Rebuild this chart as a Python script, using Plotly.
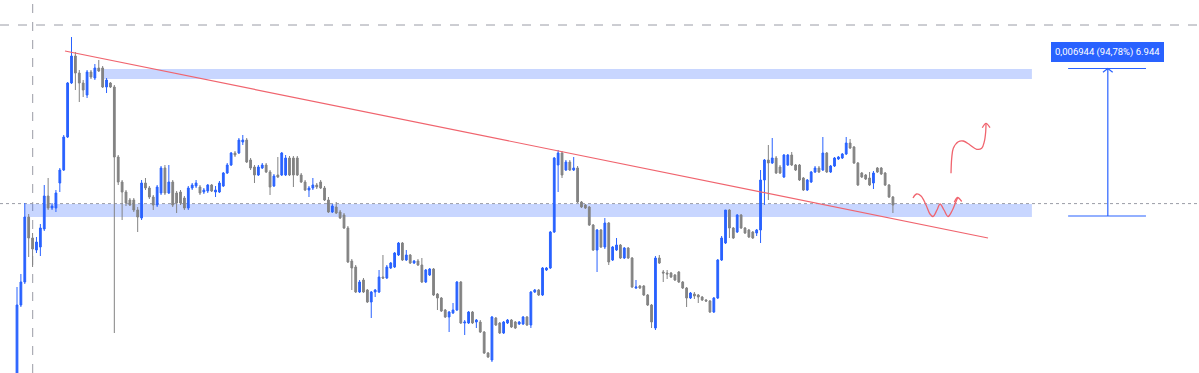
import numpy as np
import plotly.graph_objects as go

# Prices are stored in units of 0.00001
UNIT = 1e-5

open_ = [125,475,590,915,810,750,765,855,1020,960,
960,1085,1150,1315,1585,1720,1635,1585,1525,1640,
1610,1660,1660,1565,1585,1565,1215,1090,1040,1000,
1000,950,910,1085,1060,1015,975,1035,1160,1035,
1090,1035,1040,1010,960,1060,1070,1065,1040,1045,
1075,1040,1040,1070,1135,1175,1235,1235,1290,1300,
1200,1165,1125,1160,1175,1140,1070,1125,1125,1125,
1210,1210,1210,1125,1090,1050,1060,1075,1090,1060,
1000,940,965,940,925,860,695,665,540,600,
550,490,540,540,615,610,660,665,725,785,
700,725,685,695,675,590,625,655,530,510,
450,415,435,450,590,385,385,440,390,390,
340,235,200,410,385,335,385,400,390,380,
380,415,375,540,550,525,650,660,840,1175,
1235,1150,1190,1150,1160,990,975,965,875,750,
850,765,885,700,750,775,710,760,710,560,
570,570,525,475,360,710,640,635,635,625,
640,590,560,510,530,525,515,500,495,440,
510,700,785,950,860,840,925,860,850,840,
835,850,1100,1200,1185,1210,1165,1115,1175,1225,
1175,1175,1110,1050,1090,1140,1160,1150,1235,1140,
1170,1205,1210,1230,1285,1265,1185,1135,1125,1110,
1085,1160,1160,1135,1075,1015]

high = [565,630,985,930,835,815,880,1075,1110,985,
1050,1160,1325,1590,1815,1740,1650,1600,1650,1650,
1680,1700,1670,1610,1590,1575,1225,1100,1050,1010,
1010,965,1100,1110,1070,1025,1075,1170,1175,1175,
1100,1045,1050,1020,1070,1085,1100,1075,1060,1080,
1080,1070,1095,1140,1185,1240,1245,1310,1325,1310,
1210,1175,1175,1185,1185,1150,1130,1215,1240,1225,
1220,1220,1220,1135,1100,1070,1110,1085,1100,1070,
1015,980,990,950,935,870,705,675,600,610,
555,545,555,650,725,675,690,740,790,790,
750,730,700,705,710,655,660,660,535,515,
455,445,485,595,595,400,445,445,405,400,
345,240,420,415,390,395,405,405,395,395,
420,420,545,555,555,665,665,845,1215,1250,
1245,1200,1200,1215,1170,995,980,970,880,855,
855,910,890,770,810,780,765,765,715,600,
575,575,530,480,720,725,650,650,640,630,
645,595,565,540,540,530,520,505,500,515,
705,820,950,955,865,930,930,865,855,845,
855,1150,1205,1275,1310,1220,1175,1230,1230,1240,
1180,1180,1115,1105,1145,1170,1170,1315,1240,1175,
1215,1220,1235,1315,1305,1270,1190,1140,1130,1140,
1145,1165,1165,1140,1080,1020]

low = [100,465,580,715,665,735,720,845,950,950,
940,1040,1145,1310,1580,1550,1490,1515,1510,1605,
1600,1640,1560,1535,1560,335,1075,900,970,970,
940,840,900,1050,1005,950,965,1025,1025,1030,
965,935,975,950,950,1050,1060,1025,1030,1035,
1040,1015,1035,1065,1130,1170,1215,1230,1275,1185,
1150,1085,1120,1155,1135,1025,1065,1110,1120,1120,
1120,1065,1120,1085,1045,1015,1050,1055,1055,995,
935,935,930,905,855,685,550,535,535,535,
485,410,515,535,605,605,655,660,720,695,
695,680,680,670,585,585,620,520,450,440,
410,340,430,445,380,325,380,380,360,335,
230,210,190,370,330,330,380,360,355,375,
375,370,360,535,520,520,645,655,835,1040,
1110,1145,1145,1145,985,960,955,870,745,640,
760,755,675,695,745,705,705,705,560,555,
555,520,470,360,350,680,590,605,610,595,
585,555,465,505,505,485,495,490,435,435,
505,695,780,810,805,835,855,830,810,805,
820,785,975,1000,1180,1130,1130,1110,1170,1170,
1145,1095,1045,1045,1085,1135,1135,1145,1135,1135,
1165,1200,1205,1225,1255,1180,1070,1110,1100,1070,
1055,1135,1125,1070,1010,935]

close = [475,590,915,810,755,790,860,1020,960,970,
1035,1150,1315,1585,1720,1635,1585,1550,1640,1615,
1660,1645,1565,1600,1565,1215,1090,1040,985,975,
950,915,1085,1060,1015,975,1065,1160,1035,1090,
975,985,985,960,1060,1075,1085,1035,1050,1075,
1045,1050,1085,1135,1175,1235,1225,1300,1300,1190,
1160,1125,1165,1175,1140,1065,1120,1115,1235,1210,
1125,1125,1125,1090,1050,1060,1075,1065,1060,1000,
940,970,935,910,860,690,660,540,590,540,
490,540,550,615,610,665,685,735,785,700,
725,685,695,675,590,650,655,525,510,445,
415,440,450,590,385,390,440,385,400,340,
235,215,415,375,335,390,400,365,360,390,
415,375,540,550,525,660,660,840,1210,1235,
1125,1190,1150,1160,990,965,960,875,750,850,
765,885,690,765,775,710,760,710,565,565,
560,525,475,390,710,685,635,630,615,600,
590,560,510,535,520,515,500,495,440,510,
700,810,950,860,810,925,860,835,815,810,
850,1100,1200,1185,1210,1135,1135,1225,1225,1175,
1150,1100,1050,1100,1140,1160,1140,1235,1140,1170,
1210,1215,1230,1285,1260,1185,1075,1115,1105,1075,
1135,1140,1130,1075,1015,975]

bars = list(range(len(close)))

# Drawings (bar index, price units)
upper_zone = dict(x0=21.7, x1=260.7, y0=1605, y1=1655)
lower_zone = dict(x0=1.9, x1=260.7, y0=915, y1=980)
dotted_level = 982
cross_price = 1875
cross_bar = 4.03
trend = dict(x0=12.33, y0=1745, x1=249.42, y1=810)
measure = dict(xl=270.0, xr=290.0, xm=280.2, lo=920, hi=1657.5)
measure_label = "0,006944 (94,78%) 6.944"
measure_label_pos = (280.2, 1742.5)

wave_x = [230.16, 231.06, 232.22, 233.50, 234.52, 235.29, 236.32, 237.09,
          238.12, 239.15, 240.17, 240.94, 241.59]
wave_y = [1010, 1030, 1020, 975, 930, 917.5, 950, 980, 950, 917.5, 945, 980, 1010]
wave_head_x = [240.77, 241.59, 242.67]
wave_head_y = [988.5, 1012.5, 992.5]

up_x = [239.92, 240.10, 240.51, 241.79, 243.07, 244.80, 246.52, 247.80,
        248.47, 248.83, 248.91]
up_y = [1133.5, 1208.5, 1258.5, 1291.5, 1295, 1275, 1253.5, 1258.5,
        1291.5, 1341.5, 1383.5]
up_head_x = [247.96, 248.91, 249.94]
up_head_y = [1361.5, 1383.5, 1361.5]

BLUE = "#2962FF"
GREY = "#838383"
RED = "#F0646E"
ZONE = "rgba(41,98,255,0.26)"

u = lambda v: np.array(v, dtype=float) * UNIT

fig = go.Figure()
fig.add_trace(go.Candlestick(
    x=bars, open=u(open_), high=u(high), low=u(low), close=u(close),
    increasing=dict(line=dict(color=BLUE, width=1), fillcolor=BLUE),
    decreasing=dict(line=dict(color=GREY, width=1), fillcolor=GREY),
    whiskerwidth=0, hoverinfo="skip", showlegend=False,
))

for xs, ys in [(wave_x, wave_y), (wave_head_x, wave_head_y),
               (up_x, up_y), (up_head_x, up_head_y)]:
    fig.add_trace(go.Scatter(x=xs, y=u(ys), mode="lines",
                             line=dict(color=RED, width=1.3, shape="spline", smoothing=1.0),
                             hoverinfo="skip", showlegend=False))

shapes = []
for z in (upper_zone, lower_zone):
    shapes.append(dict(type="rect", xref="x", yref="y", x0=z["x0"], x1=z["x1"],
                       y0=z["y0"] * UNIT, y1=z["y1"] * UNIT,
                       fillcolor=ZONE, line=dict(width=0), layer="below"))
shapes.append(dict(type="line", xref="paper", yref="y", x0=0, x1=1,
                   y0=dotted_level * UNIT, y1=dotted_level * UNIT,
                   line=dict(color="#9a9ca6", width=1, dash="dot"), layer="below"))
shapes.append(dict(type="line", xref="paper", yref="y", x0=0, x1=1,
                   y0=cross_price * UNIT, y1=cross_price * UNIT,
                   line=dict(color="#9a9ca6", width=1, dash="dash"), layer="below"))
shapes.append(dict(type="line", xref="x", yref="paper", x0=cross_bar, x1=cross_bar,
                   y0=0, y1=1, line=dict(color="#9a9ca6", width=1, dash="dash"), layer="below"))
shapes.append(dict(type="line", xref="x", yref="y", x0=trend["x0"], y0=trend["y0"] * UNIT,
                   x1=trend["x1"], y1=trend["y1"] * UNIT, line=dict(color=RED, width=1.2)))
m = measure
for yv in (m["lo"], m["hi"]):
    shapes.append(dict(type="line", xref="x", yref="y", x0=m["xl"], x1=m["xr"],
                       y0=yv * UNIT, y1=yv * UNIT, line=dict(color=BLUE, width=1.2)))
shapes.append(dict(type="line", xref="x", yref="y", x0=m["xm"], x1=m["xm"],
                   y0=m["lo"] * UNIT, y1=m["hi"] * UNIT, line=dict(color=BLUE, width=1.2)))
shapes.append(dict(type="path", xref="x", yref="y",
                   path=f"M {m['xm']-1.25},{(m['hi']-19)*UNIT} L {m['xm']},{m['hi']*UNIT} L {m['xm']+1.25},{(m['hi']-19)*UNIT}",
                   line=dict(color=BLUE, width=1.2)))

fig.update_layout(
    width=1199, height=373,
    margin=dict(l=0, r=0, t=0, b=0),
    paper_bgcolor="white", plot_bgcolor="white",
    shapes=shapes, boxgap=0.35, showlegend=False,
    xaxis=dict(range=[-17 / 3.893, (1199 - 17) / 3.893], visible=False,
               rangeslider=dict(visible=False), showgrid=False, fixedrange=True),
    yaxis=dict(range=[135 * UNIT, 2000 * UNIT], visible=False, showgrid=False, fixedrange=True),
    annotations=[dict(x=measure_label_pos[0], y=measure_label_pos[1] * UNIT, xref="x", yref="y",
                      text=measure_label, showarrow=False,
                      font=dict(family="Roboto, Arial", size=9.5, color="white"),
                      bgcolor=BLUE, bordercolor=BLUE, borderwidth=1, borderpad=3)],
)

fig.write_html("out.html", config={"displayModeBar": False},
               post_script="document.body.style.margin='0';document.body.style.overflow='hidden';")
